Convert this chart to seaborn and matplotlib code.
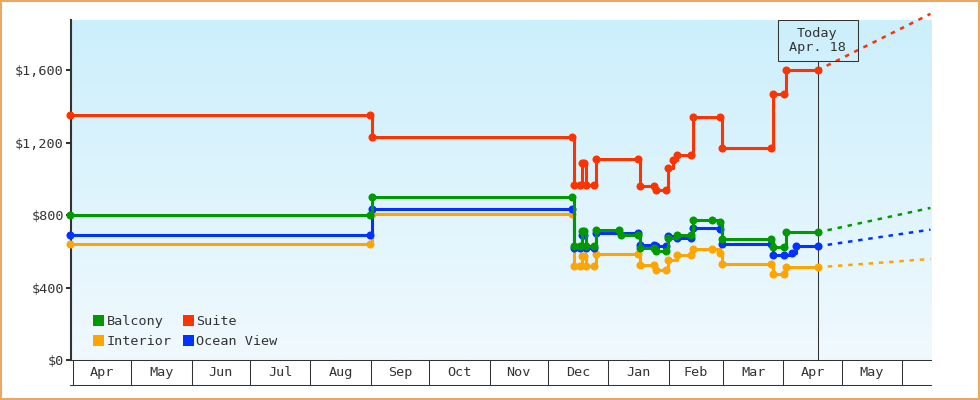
import numpy as np
import pandas as pd
import matplotlib
matplotlib.use("Agg")
import matplotlib.pyplot as plt
from matplotlib.patches import Patch, Rectangle
from matplotlib.colors import LinearSegmentedColormap
from matplotlib.ticker import FuncFormatter, FixedLocator, NullFormatter, FixedFormatter
import matplotlib.dates as mdates
import seaborn as sns

# ---------------- data ----------------
SERIES = ["Balcony", "Interior", "Suite", "Ocean View"]
COLORS = {"Balcony": "#009a00", "Interior": "#ffa500",
          "Suite": "#ff3300", "Ocean View": "#0033ff"}

suite_dates = ["2018-03-30", "2018-08-31", "2018-09-01", "2018-12-13", "2018-12-14",
               "2018-12-17", "2018-12-18", "2018-12-19", "2018-12-20", "2018-12-24",
               "2018-12-25", "2019-01-16", "2019-01-17", "2019-01-24", "2019-01-25",
               "2019-01-30", "2019-01-31", "2019-02-03", "2019-02-05", "2019-02-12",
               "2019-02-13", "2019-02-27", "2019-02-28", "2019-03-25", "2019-03-26",
               "2019-04-01", "2019-04-02", "2019-04-18"]
suite_prices = [1355, 1355, 1230, 1230, 968, 968, 1088, 1088, 968, 968,
                1112, 1112, 963, 963, 940, 940, 1058, 1105, 1130, 1130,
                1342, 1342, 1171, 1171, 1469, 1469, 1600, 1600]

balcony_dates = ["2018-03-30", "2018-08-31", "2018-09-01", "2018-12-13", "2018-12-14",
                 "2018-12-17", "2018-12-18", "2018-12-19", "2018-12-20", "2018-12-24",
                 "2018-12-25", "2019-01-06", "2019-01-07", "2019-01-16", "2019-01-17",
                 "2019-01-24", "2019-01-25", "2019-01-30", "2019-01-31", "2019-02-05",
                 "2019-02-12", "2019-02-13", "2019-02-23", "2019-02-27", "2019-02-28",
                 "2019-03-25", "2019-03-26", "2019-04-01", "2019-04-02", "2019-04-18"]
balcony_prices = [800, 800, 900, 900, 632, 632, 711, 711, 632, 632,
                  720, 720, 692, 692, 619, 619, 600, 600, 674, 692,
                  692, 775, 775, 762, 669, 669, 622, 622, 705, 705]

interior_dates = ["2018-03-30", "2018-08-31", "2018-09-01", "2018-12-13", "2018-12-14",
                  "2018-12-17", "2018-12-18", "2018-12-19", "2018-12-20", "2018-12-24",
                  "2018-12-25", "2019-01-16", "2019-01-17", "2019-01-24", "2019-01-25",
                  "2019-01-30", "2019-01-31", "2019-02-05", "2019-02-12", "2019-02-13",
                  "2019-02-23", "2019-02-27", "2019-02-28", "2019-03-25", "2019-03-26",
                  "2019-04-01", "2019-04-02", "2019-04-18"]
interior_prices = [640, 640, 806, 806, 521, 521, 577, 577, 521, 521,
                   583, 583, 527, 527, 499, 499, 554, 582, 582, 612,
                   612, 592, 531, 531, 476, 476, 512, 512]

ocean_dates = ["2018-03-30", "2018-08-31", "2018-09-01", "2018-12-13", "2018-12-14",
               "2018-12-17", "2018-12-18", "2018-12-19", "2018-12-20", "2018-12-24",
               "2018-12-25", "2019-01-16", "2019-01-17", "2019-01-24", "2019-01-25",
               "2019-01-30", "2019-01-31", "2019-02-05", "2019-02-12", "2019-02-13",
               "2019-02-27", "2019-02-28", "2019-03-25", "2019-03-26", "2019-04-01",
               "2019-04-05", "2019-04-07", "2019-04-18"]
ocean_prices = [690, 690, 835, 835, 620, 620, 692, 692, 620, 620,
                702, 702, 637, 637, 632, 632, 683, 674, 674, 729,
                722, 641, 641, 582, 582, 590, 628, 628]

proj_dates = ["2019-04-18", "2019-06-15"]
suite_proj = [1600, 1912]
balcony_proj = [705, 840]
interior_proj = [512, 558]
ocean_proj = [628, 720]

today = "2019-04-18"
today_label = "Today\nApr. 18"
month_labels = ["Apr", "May", "Jun", "Jul", "Aug", "Sep", "Oct",
                "Nov", "Dec", "Jan", "Feb", "Mar", "Apr", "May"]
y_ticks = [0, 400, 800, 1200, 1600]

# ---------------- style ----------------
sns.set_style("white")
plt.rcParams["font.family"] = ["DejaVu Sans Mono", "DejaVu Sans"]
FS = 9.7
TXT = "#333333"

fig = plt.figure(figsize=(9.8, 4.0), dpi=100)
ax = fig.add_axes([71 / 980, 40 / 400, 860 / 980, 340 / 400])

# background gradient
grad_cmap = LinearSegmentedColormap.from_list("bg", ["#cceffc", "#f0f9fe"])
ax.imshow(np.linspace(0, 1, 256).reshape(-1, 1), cmap=grad_cmap, aspect="auto",
          extent=[0, 1, 0, 1], transform=ax.transAxes, zorder=0, origin="upper")

OFFSET = pd.Timedelta(hours=12)

series_data = {
    "Interior": (interior_dates, interior_prices, interior_proj),
    "Ocean View": (ocean_dates, ocean_prices, ocean_proj),
    "Balcony": (balcony_dates, balcony_prices, balcony_proj),
    "Suite": (suite_dates, suite_prices, suite_proj),
}

for i, (name, (d, p, pr)) in enumerate(series_data.items()):
    df = pd.DataFrame({"date": pd.to_datetime(d) + OFFSET, "price": p})
    sns.lineplot(data=df, x="date", y="price", ax=ax, color=COLORS[name],
                 estimator=None, drawstyle="steps-post", marker="o",
                 markersize=5.8, markeredgewidth=0, linewidth=2.2,
                 clip_on=False, zorder=3 + i)
    dfp = pd.DataFrame({"date": pd.to_datetime(proj_dates) + OFFSET, "price": pr})
    sns.lineplot(data=dfp, x="date", y="price", ax=ax, color=COLORS[name],
                 estimator=None, linewidth=1.8, linestyle=(0, (1.8, 2.3)),
                 dash_capstyle="butt", clip_on=False, zorder=3 + i)

xmin = pd.Timestamp("2018-03-31 00:00")
xmax = pd.Timestamp("2019-06-15 19:00")
ax.set_xlim(xmin, xmax)
ax.set_ylim(0, 1878)

# y axis
ax.yaxis.set_major_locator(FixedLocator(y_ticks))
ax.yaxis.set_major_formatter(FuncFormatter(lambda v, _: f"${v:,.0f}"))
ax.tick_params(axis="y", which="major", left=True, length=3.6, width=1.5,
               color=TXT, labelsize=FS, labelcolor=TXT, pad=1.6)

# x axis: month cells
starts = pd.date_range("2018-04-01", "2019-06-01", freq="MS")
mids = [s + (e - s) / 2 for s, e in zip(starts[:-1], starts[1:])]
ax.xaxis.set_major_locator(FixedLocator(mdates.date2num(starts)))
ax.xaxis.set_major_formatter(NullFormatter())
ax.xaxis.set_minor_locator(FixedLocator(mdates.date2num(mids)))
ax.xaxis.set_minor_formatter(FixedFormatter(month_labels))
ax.tick_params(axis="x", which="major", bottom=True, length=18, width=0.75,
               color=TXT, direction="out")
ax.tick_params(axis="x", which="minor", bottom=True, length=0, labelsize=FS,
               labelcolor=TXT, pad=4.3)
ax.set_xlabel("")
ax.set_ylabel("")

for s in ["top", "right"]:
    ax.spines[s].set_visible(False)
ax.spines["left"].set_color(TXT)
ax.spines["left"].set_linewidth(1.5)
ax.spines["bottom"].set_color(TXT)
ax.spines["bottom"].set_linewidth(0.75)
ax.plot([-0.0012, 1.0], [-25 / 340, -25 / 340], transform=ax.transAxes,
        color=TXT, lw=0.75, clip_on=False)

# today marker
tnum = mdates.date2num(pd.Timestamp(today) + OFFSET)
xc = ax.transAxes.inverted().transform(ax.transData.transform((tnum, 0)))[0]
box_h = 41 / 340
box_w = 80 / 860
ax.axvline(tnum, ymin=0, ymax=1 - box_h, color=TXT, lw=0.75, zorder=2)
ax.add_patch(Rectangle((xc - box_w / 2, 1 - box_h), box_w, box_h,
                       transform=ax.transAxes, fill=False, ec=TXT, lw=0.75,
                       clip_on=False, zorder=10))
ax.text(xc, 1 - box_h / 2, today_label, transform=ax.transAxes, ha="center",
        va="center", fontsize=FS, color=TXT, linespacing=1.0, zorder=11)

# legend
handles = [Patch(facecolor=COLORS[n], edgecolor="none", label=n) for n in SERIES]
ax.legend(handles=handles, loc="lower left", bbox_to_anchor=(0.0256, 0.035),
          ncol=2, frameon=False, fontsize=FS, handlelength=0.8, handleheight=0.8,
          handletextpad=0.2, columnspacing=0.85, labelspacing=0.52, borderpad=0,
          borderaxespad=0, labelcolor=TXT)

# figure border
fig.add_artist(Rectangle((0, 0), 1, 1, transform=fig.transFigure, fill=False,
                         ec="#e9a960", lw=2.9))

fig.savefig("out.png", dpi=100)
